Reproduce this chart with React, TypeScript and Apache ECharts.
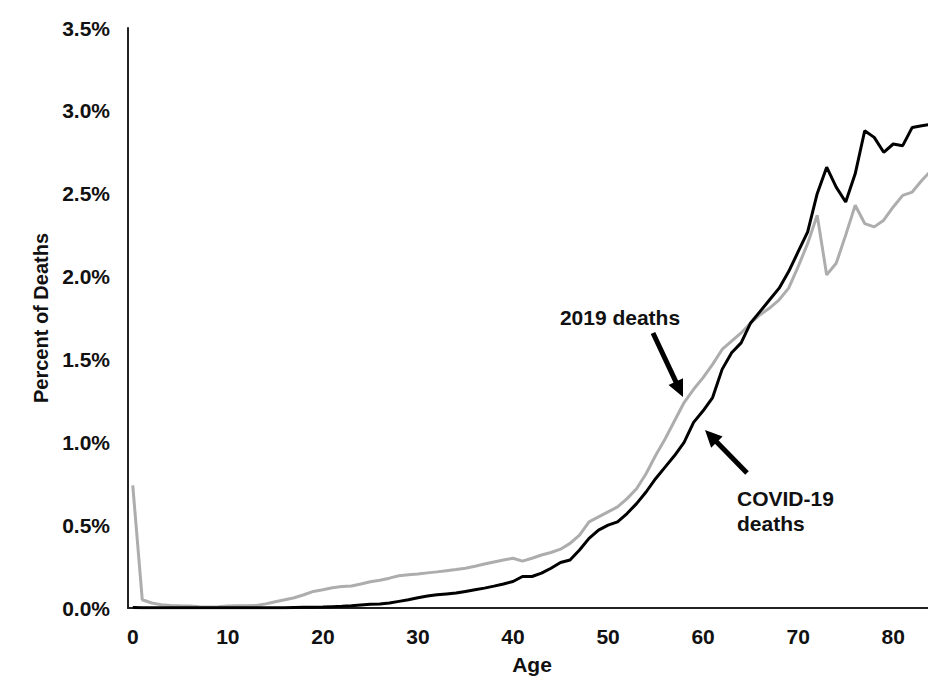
import React, { useEffect, useRef } from "react";
import * as echarts from "echarts";

const ages: string[] = Array.from({ length: 85 }, (_, i) => String(i));

const deaths2019: number[] = [
  0.74, 0.05, 0.03, 0.02, 0.015, 0.013, 0.012, 0.008, 0.006, 0.008,
  0.012, 0.013, 0.013, 0.015, 0.025, 0.038, 0.05, 0.062, 0.08, 0.1,
  0.11, 0.122, 0.13, 0.133, 0.145, 0.158, 0.168, 0.18, 0.195, 0.2,
  0.205, 0.212, 0.218, 0.225, 0.232, 0.24, 0.252, 0.265, 0.278, 0.29,
  0.3, 0.283, 0.3, 0.32, 0.335, 0.355, 0.39, 0.44, 0.52, 0.55,
  0.58, 0.61, 0.66, 0.72, 0.81, 0.92, 1.02, 1.13, 1.24, 1.32,
  1.39, 1.47, 1.56, 1.61, 1.66, 1.72, 1.77, 1.81, 1.86, 1.93,
  2.06, 2.2, 2.37, 2.01, 2.08, 2.25, 2.43, 2.32, 2.3, 2.34,
  2.42, 2.49, 2.51, 2.58, 2.64,
];

const deathsCovid: number[] = [
  0.003, 0.001, 0.001, 0.001, 0.001, 0.001, 0.001, 0.001, 0.001, 0.001,
  0.001, 0.001, 0.001, 0.001, 0.001, 0.001, 0.002, 0.003, 0.004, 0.005,
  0.006, 0.008, 0.01, 0.013, 0.018, 0.022, 0.024, 0.03, 0.04, 0.05,
  0.062, 0.072, 0.08, 0.085, 0.09, 0.1, 0.11, 0.12, 0.132, 0.145,
  0.16, 0.19, 0.19, 0.21, 0.24, 0.275, 0.29, 0.35, 0.42, 0.47,
  0.5, 0.52, 0.57, 0.63, 0.7, 0.78, 0.85, 0.92, 1.0, 1.12,
  1.19, 1.27, 1.44, 1.54, 1.6, 1.72, 1.79, 1.86, 1.93, 2.03,
  2.15, 2.27, 2.5, 2.66, 2.54, 2.45, 2.62, 2.88, 2.84, 2.75,
  2.8, 2.79, 2.9, 2.91, 2.92,
];

const yTicks: number[] = [0, 0.5, 1, 1.5, 2, 2.5, 3, 3.5];

const FONT = "'Liberation Sans', Arial, sans-serif";

function arrow(x0: number, y0: number, x1: number, y1: number) {
  const dx = x1 - x0;
  const dy = y1 - y0;
  const len = Math.sqrt(dx * dx + dy * dy);
  const ux = dx / len;
  const uy = dy / len;
  const headLen = 17;
  const halfW = 8;
  const bx = x1 - headLen * ux;
  const by = y1 - headLen * uy;
  const nx = -uy;
  const ny = ux;
  return [
    {
      type: "line",
      shape: { x1: x0, y1: y0, x2: bx + ux * 2, y2: by + uy * 2 },
      style: { stroke: "#000", lineWidth: 5 },
    },
    {
      type: "polygon",
      shape: {
        points: [
          [x1, y1],
          [bx + nx * halfW, by + ny * halfW],
          [bx - nx * halfW, by - ny * halfW],
        ],
      },
      style: { fill: "#000" },
    },
  ];
}

export default function App() {
  const ref = useRef<HTMLDivElement>(null);
  useEffect(() => {
    document.body.style.margin = "0";
    if (!ref.current) return;
    const chart = echarts.init(ref.current, null, { renderer: "svg" });
    chart.setOption({
      animation: false,
      backgroundColor: "#fff",
      grid: { left: 128, top: 28, right: 0, bottom: 88, containLabel: false },
      xAxis: {
        type: "category",
        data: ages,
        boundaryGap: true,
        name: "Age",
        nameLocation: "middle",
        nameGap: 46,
        nameTextStyle: { fontFamily: FONT, fontWeight: "bold", fontSize: 21, color: "#111" },
        axisLine: { show: true, lineStyle: { color: "#222", width: 2 } },
        axisTick: { show: false },
        axisLabel: {
          interval: 9,
          margin: 18,
          fontFamily: FONT,
          fontWeight: "bold",
          fontSize: 21,
          color: "#111",
        },
        splitLine: { show: false },
      },
      yAxis: {
        type: "value",
        min: 0,
        max: 3.5,
        interval: 0.5,
        name: "Percent of Deaths",
        nameLocation: "middle",
        nameGap: 75,
        nameTextStyle: { fontFamily: FONT, fontWeight: "bold", fontSize: 20, color: "#111" },
        axisLine: { show: true, lineStyle: { color: "#222", width: 2 } },
        axisTick: { show: false },
        splitLine: { show: false },
        axisLabel: {
          margin: 18,
          fontFamily: FONT,
          fontWeight: "bold",
          fontSize: 21,
          color: "#111",
          formatter: (v: number) => (yTicks.includes(v) ? v.toFixed(1) + "%" : ""),
        },
      },
      series: [
        {
          name: "2019 deaths",
          type: "line",
          data: deaths2019,
          symbol: "none",
          lineStyle: { color: "#adadad", width: 3 },
          z: 2,
        },
        {
          name: "COVID-19 deaths",
          type: "line",
          data: deathsCovid,
          symbol: "none",
          lineStyle: { color: "#000000", width: 3 },
          z: 3,
        },
      ],
      graphic: [
        {
          type: "text",
          x: 620,
          y: 317,
          style: {
            text: "2019 deaths",
            fontFamily: FONT,
            fontWeight: "bold",
            fontSize: 21,
            fill: "#111",
            align: "center",
            verticalAlign: "middle",
          },
        },
        {
          type: "text",
          x: 737,
          y: 498,
          style: {
            text: "COVID-19",
            fontFamily: FONT,
            fontWeight: "bold",
            fontSize: 21,
            fill: "#111",
            align: "left",
            verticalAlign: "middle",
          },
        },
        {
          type: "text",
          x: 737,
          y: 523,
          style: {
            text: "deaths",
            fontFamily: FONT,
            fontWeight: "bold",
            fontSize: 21,
            fill: "#111",
            align: "left",
            verticalAlign: "middle",
          },
        },
        ...arrow(653, 333, 683, 397),
        ...arrow(747, 473, 705, 430),
      ],
    });
    return () => chart.dispose();
  }, []);
  return (
    <div style={{ position: "absolute", left: 0, top: 0, width: 928, height: 696, overflow: "hidden" }}>
      <div ref={ref} style={{ width: 936, height: 696 }} />
    </div>
  );
}
